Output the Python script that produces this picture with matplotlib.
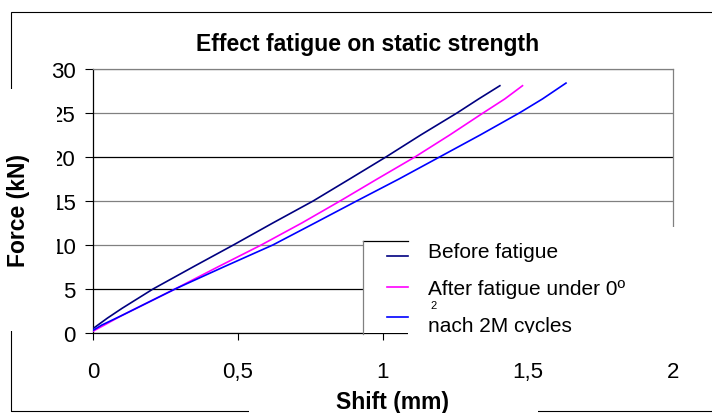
import matplotlib
matplotlib.use('Agg')
import matplotlib.pyplot as plt
from matplotlib.patches import Rectangle
from matplotlib.lines import Line2D
from matplotlib.transforms import Bbox, TransformedBbox

plt.rcParams['font.family'] = ['Liberation Sans', 'DejaVu Sans']

# Messkurven (Weg in mm, Kraft in kN)
before_x = [0, 0.05, 0.1, 0.207, 0.35, 0.484, 0.62, 0.759, 0.885, 1.01, 1.13, 1.255, 1.33, 1.403]
before_y = [0.5, 1.7, 2.8, 5, 7.6, 10, 12.5, 15, 17.5, 20, 22.5, 25, 26.6, 28.1]

after_x = [0, 0.1, 0.283, 0.43, 0.58, 0.72, 0.852, 0.98, 1.11, 1.23, 1.345, 1.42, 1.481]
after_y = [0.2, 2.0, 5, 7.5, 10, 12.5, 15, 17.5, 20, 22.5, 25, 26.6, 28.1]

cycles_x = [0, 0.03, 0.1, 0.283, 0.45, 0.62, 0.765, 0.909, 1.055, 1.195, 1.335, 1.47, 1.55, 1.631]
cycles_y = [0.3, 0.9, 2.0, 5, 7.5, 10, 12.5, 15, 17.5, 20, 22.5, 25, 26.6, 28.4]

labels = ['Before fatigue', 'After fatigue under 0º', 'nach 2M cycles']
colors = ['#000080', '#FF00FF', '#0000FF']

x_ticks = [0, 0.5, 1, 1.5, 2]
x_ticklabels = ['0', '0,5', '1', '1,5', '2']
y_ticks = [0, 5, 10, 15, 20, 25, 30]

W, H = 712, 414


def fx(x):
    return x / W


def fy(y):
    return 1 - y / H


fig = plt.figure(figsize=(W / 100, H / 100), dpi=100)

# Diagrammrahmen
fig.add_artist(Rectangle((fx(10.7), fy(412)), fx(730 - 10.7), (412 - 13.3) / H,
                         transform=fig.transFigure, fill=False, edgecolor='black',
                         linewidth=0.8, zorder=0.5))

ax = fig.add_axes([fx(93), fy(334), (673 - 93) / W, (334 - 70) / H])
ax.set_zorder(1)

series = [(before_x, before_y), (after_x, after_y), (cycles_x, cycles_y)]
for (xs, ys), c in zip(series, colors):
    ax.plot(xs, ys, color=c, linewidth=1.2, zorder=3)

ax.set_xlim(0, 2)
ax.set_ylim(0, 30)
ax.set_xticks(x_ticks)
ax.set_xticklabels(x_ticklabels)
ax.set_yticks(y_ticks)
ax.tick_params(axis='y', labelsize=16, length=5.8, width=0.8, pad=6.5, direction='out')
ax.tick_params(axis='x', labelsize=16, length=5, width=0.8, pad=15, direction='out')

ax.grid(axis='y', color='#808080', linewidth=0.9)
for gl, val in zip(ax.get_ygridlines(), y_ticks):
    if val in (5, 20):
        gl.set_color('black')
ax.set_axisbelow(True)

ax.spines['left'].set_color('black')
ax.spines['bottom'].set_color('black')
ax.spines['top'].set_color('#808080')
ax.spines['right'].set_color('#808080')
for s in ax.spines.values():
    s.set_linewidth(0.9)

# weisse Abdeckungen (Textfelder ueber dem Diagramm)
def mask(x0, y0, x1, y1):
    fig.add_artist(Rectangle((fx(x0), fy(y1)), (x1 - x0) / W, (y1 - y0) / H,
                             transform=fig.transFigure, facecolor='white',
                             edgecolor='none', zorder=2))

mask(0, 90, 57, 332)
mask(408, 228, 720, 345)
mask(363.5, 242, 408, 333.5)
mask(249, 395, 538, 420)

# Legendenkasten
fig.add_artist(Line2D([fx(363), fx(408)], [fy(242), fy(242)], transform=fig.transFigure,
                      color='black', linewidth=0.9, zorder=2.5))
fig.add_artist(Line2D([fx(363), fx(363)], [fy(242), fy(335)], transform=fig.transFigure,
                      color='#808080', linewidth=0.9, zorder=2.5))

handle_y = [257, 288, 318]
text_base = [258, 295, 332]
for lab, c, hy, ty in zip(labels, colors, handle_y, text_base):
    fig.add_artist(Line2D([fx(387), fx(408)], [fy(hy), fy(hy)], transform=fig.transFigure,
                          color=c, linewidth=1.2, zorder=3))
    t = fig.text(fx(428), fy(ty), lab, fontsize=15, va='baseline', ha='left', zorder=4)
    if lab == labels[-1]:
        clip = TransformedBbox(Bbox.from_extents(0, fy(334), 1, 1), fig.transFigure)
        t.set_clip_box(clip)
        t.set_clip_on(True)
fig.text(fx(430), fy(309), '2', fontsize=8, va='baseline', ha='left', zorder=4)

# Titel und Achsenbeschriftungen
fig.text(fx(368), fy(51), 'Effect fatigue on static strength', fontsize=16.5,
         fontweight='bold', ha='center', va='baseline', zorder=4)
fig.text(fx(19), fy(210.5), 'Force (kN)', fontsize=16.5, fontweight='bold',
         rotation=90, ha='center', va='center', zorder=4)
fig.text(fx(392), fy(409), 'Shift (mm)', fontsize=16.5, fontweight='bold',
         ha='center', va='baseline', zorder=4)

fig.savefig('out.png', dpi=100, facecolor='white')
